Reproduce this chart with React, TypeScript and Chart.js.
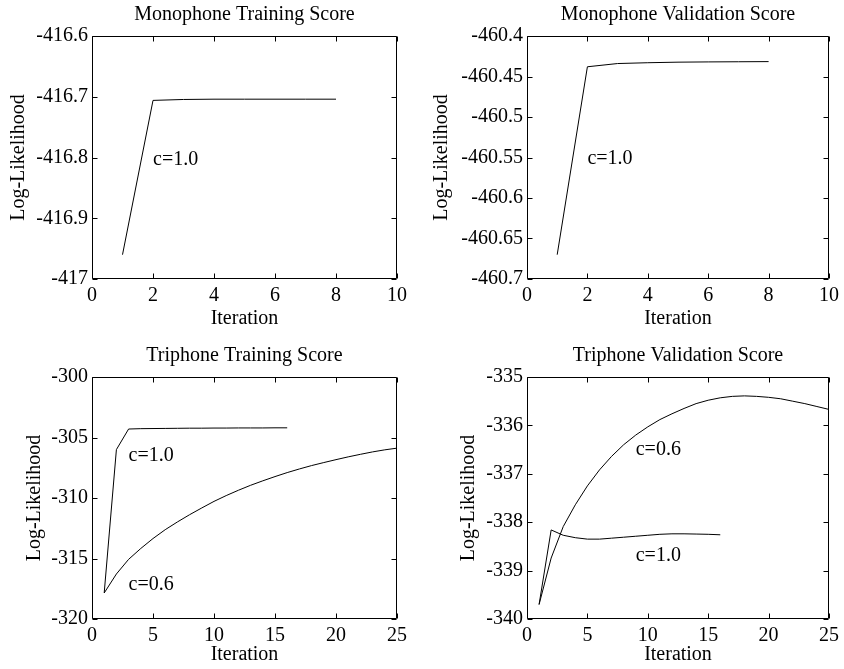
import React, { useEffect, useRef } from "react";
import { Chart, registerables } from "chart.js";

Chart.register(...registerables);

// ---------- data ----------
const monoIterations = [1, 2, 3, 4, 5, 6, 7, 8];
const monoTrainC10 = [-416.96, -416.706, -416.7045, -416.704, -416.704, -416.704, -416.704, -416.704];
const monoValidC10 = [-460.67, -460.438, -460.434, -460.433, -460.4323, -460.432, -460.4318, -460.4316];

const triIterationsC10 = [1, 2, 3, 4, 5, 6, 7, 8, 9, 10, 11, 12, 13, 14, 15, 16];
const triIterationsC06 = [1, 2, 3, 4, 5, 6, 7, 8, 9, 10, 11, 12, 13, 14, 15, 16, 17, 18, 19, 20, 21, 22, 23, 24, 25];

const triTrainC10 = [-317.85, -306.0, -304.3, -304.27, -304.26, -304.25, -304.24, -304.23, -304.23, -304.22, -304.22, -304.21, -304.21, -304.21, -304.2, -304.2];
const triTrainC06 = [-317.85, -316.28, -315.07, -314.17, -313.35, -312.62, -311.98, -311.38, -310.82, -310.28, -309.8, -309.36, -308.95, -308.58, -308.23, -307.9, -307.6, -307.32, -307.07, -306.83, -306.6, -306.39, -306.19, -306.02, -305.88];

const triValidC10 = [-339.7, -338.16, -338.27, -338.32, -338.35, -338.35, -338.33, -338.31, -338.29, -338.27, -338.25, -338.24, -338.24, -338.245, -338.25, -338.26];
const triValidC06 = [-339.7, -338.74, -338.09, -337.64, -337.25, -336.92, -336.64, -336.4, -336.2, -336.03, -335.88, -335.76, -335.65, -335.55, -335.48, -335.43, -335.4, -335.39, -335.4, -335.42, -335.45, -335.5, -335.55, -335.61, -335.67];

const monoXTicks = [0, 2, 4, 6, 8, 10];
const triXTicks = [0, 5, 10, 15, 20, 25];
const monoTrainYTicks = [-417, -416.9, -416.8, -416.7, -416.6];
const monoValidYTicks = [-460.7, -460.65, -460.6, -460.55, -460.5, -460.45, -460.4];
const triTrainYTicks = [-320, -315, -310, -305, -300];
const triValidYTicks = [-340, -339, -338, -337, -336, -335];

const monoTrainNoteText = ["c=1.0"];
const monoTrainNoteX = [2];
const monoTrainNoteY = [-416.803];
const monoValidNoteText = ["c=1.0"];
const monoValidNoteX = [2];
const monoValidNoteY = [-460.552];
const triTrainNoteText = ["c=1.0", "c=0.6"];
const triTrainNoteX = [3, 3];
const triTrainNoteY = [-306.5, -317.2];
const triValidNoteText = ["c=0.6", "c=1.0"];
const triValidNoteX = [9, 9];
const triValidNoteY = [-336.5, -338.7];

// ---------- rendering ----------
const FONT_FAMILY = "'Liberation Serif', 'Times New Roman', Times, serif";
const FONT_SIZE = 20;

type Series = { xs: number[]; ys: number[] };
type Spec = {
  left: number;
  top: number;
  width: number;
  height: number;
  title: string;
  series: Series[];
  xMin: number;
  xMax: number;
  xTicks: number[];
  yMin: number;
  yMax: number;
  yTicks: number[];
  noteText: string[];
  noteX: number[];
  noteY: number[];
  yAxisWidth: number;
  padRight: number;
  titlePadTop: number;
  titlePadBottom: number;
  xAxisHeight: number;
  yTitlePad: number;
  xTitlePad: number;
};

const fmt = (v: number | string) => String(parseFloat(Number(v).toFixed(4)));

const framePlugin = {
  id: "matlabFrame",
  afterDatasetsDraw(chart: any) {
    const { ctx, chartArea } = chart;
    const L = Math.round(chartArea.left) + 0.5;
    const R = Math.round(chartArea.right) - 0.5;
    const T = Math.round(chartArea.top) + 0.5;
    const B = Math.round(chartArea.bottom) - 0.5;
    const tick = 5;
    ctx.save();
    ctx.strokeStyle = "#000";
    ctx.lineWidth = 1;
    ctx.beginPath();
    ctx.rect(L, T, R - L, B - T);
    const xs = chart.scales.x;
    xs.ticks.forEach((t: any) => {
      const px = Math.round(xs.getPixelForValue(t.value)) + 0.5;
      ctx.moveTo(px, B);
      ctx.lineTo(px, B - tick);
      ctx.moveTo(px, T);
      ctx.lineTo(px, T + tick);
    });
    const ys = chart.scales.y;
    ys.ticks.forEach((t: any) => {
      const py = Math.round(ys.getPixelForValue(t.value)) + 0.5;
      ctx.moveTo(L, py);
      ctx.lineTo(L + tick, py);
      ctx.moveTo(R, py);
      ctx.lineTo(R - tick, py);
    });
    ctx.stroke();
    ctx.restore();
  },
};

const notesPlugin = {
  id: "textNotes",
  afterDatasetsDraw(chart: any, _args: any, opts: any) {
    const { ctx } = chart;
    const xs = chart.scales.x;
    const ys = chart.scales.y;
    ctx.save();
    ctx.fillStyle = "#000";
    ctx.font = `${FONT_SIZE}px ${FONT_FAMILY}`;
    ctx.textAlign = "left";
    ctx.textBaseline = "middle";
    (opts.text || []).forEach((t: string, i: number) => {
      ctx.fillText(t, xs.getPixelForValue(opts.x[i]), ys.getPixelForValue(opts.y[i]));
    });
    ctx.restore();
  },
};

function Panel({ spec }: { spec: Spec }) {
  const ref = useRef<HTMLCanvasElement | null>(null);
  useEffect(() => {
    if (!ref.current) return;
    const font = { family: FONT_FAMILY, size: FONT_SIZE, weight: "normal" as const, lineHeight: 1.2 };
    const chart = new Chart(ref.current, {
      type: "line",
      data: {
        datasets: spec.series.map((s) => ({
          data: s.xs.map((x, i) => ({ x, y: s.ys[i] })),
          borderColor: "#000",
          borderWidth: 1,
          pointRadius: 0,
          tension: 0,
          fill: false,
        })),
      },
      options: {
        animation: false,
        responsive: false,
        devicePixelRatio: 1,
        layout: { padding: { left: 0, right: spec.padRight, top: 0, bottom: 0 } },
        plugins: {
          legend: { display: false },
          tooltip: { enabled: false },
          title: {
            display: true,
            text: spec.title,
            color: "#000",
            font,
            fullSize: false,
            padding: { top: spec.titlePadTop, bottom: spec.titlePadBottom },
          },
          textNotes: { text: spec.noteText, x: spec.noteX, y: spec.noteY },
        } as any,
        scales: {
          x: {
            type: "linear",
            min: spec.xMin,
            max: spec.xMax,
            grid: { display: false, drawTicks: false },
            border: { display: false },
            afterBuildTicks: (s: any) => {
              s.ticks = spec.xTicks.map((v) => ({ value: v }));
            },
            ticks: { color: "#000", font, padding: 5, maxRotation: 0, autoSkip: false, callback: (v: any) => fmt(v) },
            title: { display: true, text: "Iteration", color: "#000", font, padding: { top: 0, bottom: spec.xTitlePad } },
            afterFit: (s: any) => {
              s.height = spec.xAxisHeight;
            },
          },
          y: {
            type: "linear",
            min: spec.yMin,
            max: spec.yMax,
            grid: { display: false, drawTicks: false },
            border: { display: false },
            afterBuildTicks: (s: any) => {
              s.ticks = spec.yTicks.map((v) => ({ value: v }));
            },
            ticks: { color: "#000", font, padding: 4, autoSkip: false, callback: (v: any) => fmt(v) },
            title: { display: true, text: "Log-Likelihood", color: "#000", font, padding: { top: spec.yTitlePad, bottom: 0 } },
            afterFit: (s: any) => {
              s.width = spec.yAxisWidth;
            },
          },
        } as any,
      },
      plugins: [framePlugin, notesPlugin],
    });
    return () => chart.destroy();
  }, [spec]);
  return (
    <canvas
      ref={ref}
      width={spec.width}
      height={spec.height}
      style={{ position: "absolute", left: spec.left, top: spec.top, width: spec.width, height: spec.height }}
    />
  );
}

const specs: Spec[] = [
  {
    left: 0, top: 0, width: 422, height: 335,
    title: "Monophone Training Score",
    series: [{ xs: monoIterations, ys: monoTrainC10 }],
    xMin: 0, xMax: 10, xTicks: monoXTicks,
    yMin: -417, yMax: -416.6, yTicks: monoTrainYTicks,
    noteText: monoTrainNoteText, noteX: monoTrainNoteX, noteY: monoTrainNoteY,
    yAxisWidth: 92, padRight: 25, titlePadTop: 3, titlePadBottom: 9, xAxisHeight: 56, yTitlePad: 7, xTitlePad: 4,
  },
  {
    left: 422, top: 0, width: 422, height: 335,
    title: "Monophone Validation Score",
    series: [{ xs: monoIterations, ys: monoValidC10 }],
    xMin: 0, xMax: 10, xTicks: monoXTicks,
    yMin: -460.7, yMax: -460.4, yTicks: monoValidYTicks,
    noteText: monoValidNoteText, noteX: monoValidNoteX, noteY: monoValidNoteY,
    yAxisWidth: 105, padRight: 12, titlePadTop: 3, titlePadBottom: 9, xAxisHeight: 56, yTitlePad: 8, xTitlePad: 4,
  },
  {
    left: 0, top: 335, width: 422, height: 334,
    title: "Triphone Training Score",
    series: [
      { xs: triIterationsC10, ys: triTrainC10 },
      { xs: triIterationsC06, ys: triTrainC06 },
    ],
    xMin: 0, xMax: 25, xTicks: triXTicks,
    yMin: -320, yMax: -300, yTicks: triTrainYTicks,
    noteText: triTrainNoteText, noteX: triTrainNoteX, noteY: triTrainNoteY,
    yAxisWidth: 92, padRight: 25, titlePadTop: 9, titlePadBottom: 9, xAxisHeight: 50, yTitlePad: 23, xTitlePad: 2,
  },
  {
    left: 422, top: 335, width: 422, height: 334,
    title: "Triphone Validation Score",
    series: [
      { xs: triIterationsC06, ys: triValidC06 },
      { xs: triIterationsC10, ys: triValidC10 },
    ],
    xMin: 0, xMax: 25, xTicks: triXTicks,
    yMin: -340, yMax: -335, yTicks: triValidYTicks,
    noteText: triValidNoteText, noteX: triValidNoteX, noteY: triValidNoteY,
    yAxisWidth: 105, padRight: 12, titlePadTop: 9, titlePadBottom: 9, xAxisHeight: 50, yTitlePad: 35, xTitlePad: 2,
  },
];

export default function App() {
  return (
    <div style={{ position: "fixed", left: 0, top: 0, width: 844, height: 669, background: "#fff", overflow: "hidden" }}>
      {specs.map((s, i) => (
        <Panel key={i} spec={s} />
      ))}
    </div>
  );
}
